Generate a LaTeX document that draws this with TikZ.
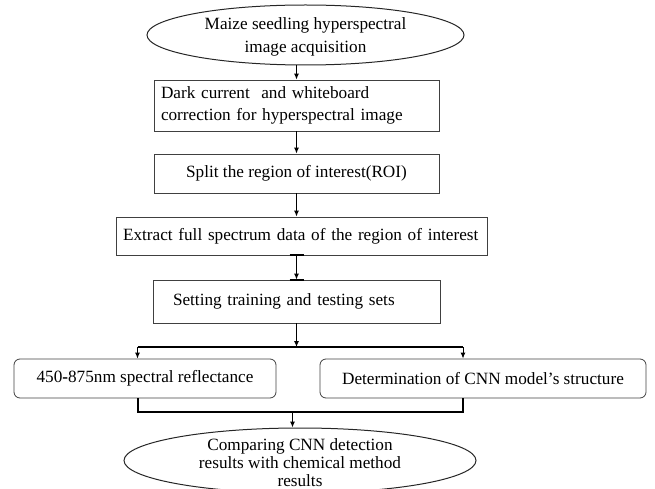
\documentclass[tikz,border=0pt]{standalone}
\usepackage{fontspec}
\setmainfont{Liberation Serif}
\usetikzlibrary{arrows.meta}
\usetikzlibrary{shapes.geometric}
\newcommand{\ovaltext}[2]{\makebox[0pt]{\smash{\raisebox{-4.5pt}{\parbox[c]{400pt}{\centering\fontsize{17.2}{#1}\selectfont #2\endgraf}}}}}
\tikzset{box/.style = {draw=black!75, line width=0.8pt, inner ysep=0pt,
                       font=\fontsize{17.2}{22}\selectfont},
         rbox/.style = {box, rounded corners=6pt, align=center},
         oval/.style = {ellipse, draw=black!85, line width=1pt, inner sep=0pt},
         flow/.style = {-{Latex[length=6pt,width=5pt]}, line width=1pt},
         bus/.style = {line width=2pt}}

\begin{document}
\begin{tikzpicture}[x=1pt, y=-1pt]
    \useasboundingbox (0,0) rectangle (655,489);

    \node [oval, minimum width=317, minimum height=60] (acq) at (305.5,35) {\ovaltext{23.5}{Maize seedling hyperspectral\\image acquisition}};
    \node [box, text width=271, inner xsep=7, align=left, minimum height=51] (corr) at (296.5,105.5) {Dark current\ \ and whiteboard\\correction for hyperspectral image};
    \node [box, minimum width=285, minimum height=39] (roi) at (296.5,173.5) {Split the region of interest(ROI)};
    \node [box, text width=357, inner xsep=7, align=left, minimum height=38] (extr) at (301.5,236) {Extract full spectrum data of the region of interest};
    \node [box, text width=247, inner xsep=20, align=left, minimum height=43] (sets) at (296.5,301.5) {Setting training and testing sets};
    \node [rbox, minimum width=262, minimum height=39] (refl) at (145,378.5) {450\textbf{-}875nm spectral reflectance};
    \node [rbox, minimum width=326, minimum height=39] (cnn) at (483,378.5) {Determination of CNN model’s structure};
    \node [oval, minimum width=352, minimum height=65] (cmp) at (300,460.5) {\ovaltext{18.3}{Comparing CNN detection\\results with chemical method\\results}};

    \draw [flow] (corr.north |- acq.south) -- (corr.north);
    \draw [flow] (corr.south) -- (roi.north);
    \draw [flow] (roi.south) -- (roi.south |- extr.north);

    \coordinate (tee) at (sets.north |- extr.south);
    \draw [bus] ([xshift=-7]tee) -- ([xshift=7]tee);
    \draw [bus] ([xshift=-7]sets.north) -- ([xshift=7]sets.north);
    \draw [flow] (tee) -- (sets.north);

    % split into the two branches
    \coordinate (forkL) at (137.5,347);
    \coordinate (forkR) at (463,347);
    \draw [flow] (sets.south) -- (sets.south |- forkL);
    \draw [bus] (forkL) -- (forkR);
    \draw [flow] (forkL) -- (forkL |- refl.north);
    \draw [flow] (forkR) -- (forkR |- cnn.north);

    % join again
    \coordinate (joinL) at (137.5,412);
    \coordinate (joinR) at (463,412);
    \coordinate (merge) at (292.5,412);
    \draw [bus] (joinL |- refl.south) -- (joinL) -- (joinR) -- (joinR |- cnn.south);
    \draw [flow] (merge) -- (merge |- cmp.north);
\end{tikzpicture}
\end{document}
